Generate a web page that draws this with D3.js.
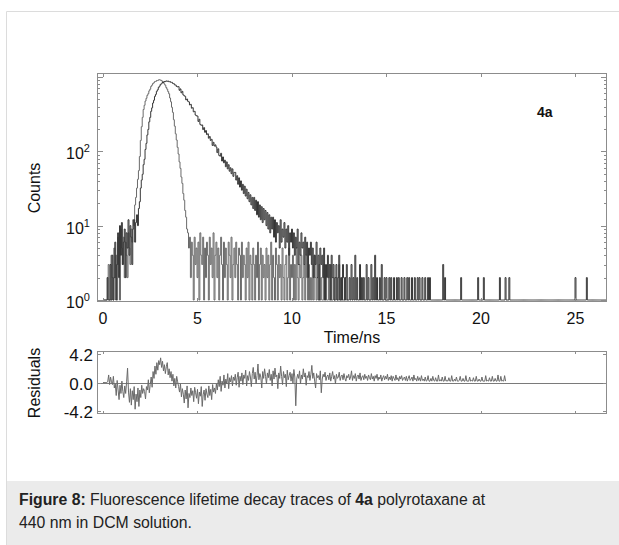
<!DOCTYPE html>
<html><head><meta charset="utf-8">
<script src="https://cdn.jsdelivr.net/npm/d3@7"></script>
<style>
html,body{margin:0;padding:0;background:#fff;}
svg{display:block;font-family:"Liberation Sans",Arial,Helvetica,sans-serif;}
</style></head><body>
<svg id="fig" width="619" height="545"></svg>
<script>
// TCSPC histogram channel width (ns); channel i sits at i * channelWidth
const channelWidth = 0.05;

// sample decay counts, one row per nanosecond (20 channels each)
const decayCounts = [
  1,1,1,1,1,2,1,1,3,1,4,1,2,6,1,3,8,2,10,4,
  11,3,6,9,2,8,5,12,4,10,7,3,9,12,6,11,14,10,17,21,
  32,41,49,66,78,106,128,166,197,249,286,345,384,446,486,548,583,641,672,724,
  752,796,808,842,846,869,866,884,874,882,861,866,845,846,818,813,783,778,745,735,
  740,662,690,612,640,575,560,548,492,505,470,462,420,428,380,386,340,345,308,300,
  298,252,270,230,224,226,196,208,180,190,168,172,150,158,140,145,120,132,118,122,
  114,96,108,88,86,94,74,84,70,76,62,72,58,66,54,60,50,58,46,52,
  52,41,47,36,44,33,40,30,36,27,34,25,31,23,28,21,26,19,24,17,
  24,16,22,14,21,13,19,12,18,11,17,12,16,10,15,9,14,8,13,9,
  13,7,12,6,11,8,10,5,12,6,9,7,11,5,9,6,10,4,8,6,
  9,5,8,4,7,5,9,3,6,4,8,5,6,3,7,4,6,2,5,4,
  6,3,5,2,4,3,6,2,4,1,5,3,4,2,5,1,3,2,4,2,
  3,1,4,2,3,1,2,3,1,2,4,1,2,1,3,2,1,2,3,1,
  1,2,1,3,1,2,1,4,1,2,1,1,3,1,2,1,2,1,1,3,
  1,2,1,1,3,1,2,1,4,1,2,1,1,2,1,3,1,1,2,1,
  2,1,1,2,1,2,1,1,2,1,1,2,1,2,1,1,2,1,1,2,
  1,1,2,1,2,1,1,2,1,1,2,1,1,2,1,2,1,1,2,1,
  1,2,1,1,2,1,2,1,1,1,1,1,1,1,1,1,1,1,1,1,
  3,1,2,1,1,1,1,1,1,1,1,1,1,1,1,1,1,1,1,2,
  1,1,1,1,1,1,1,1,1,1,1,1,1,1,1,1,1,2,1,1,
  1,1,1,2,1,1,1,1,1,1,1,1,1,1,1,1,1,1,1,1,
  2,1,1,1,1,1,2,1,1,1,2,1,1,1,1,1,1,1,1,1,
  1,1,1,1,1,1,1,1,1,1,1,1,1,1,1,1,1,1,1,1,
  1,1,1,1,1,1,1,1,1,1,1,1,1,1,1,1,1,1,1,1,
  1,1,1,1,1,1,1,1,1,1,1,1,1,1,1,1,1,1,1,1,
  2,1,1,1,1,1,1,1,1,1,1,1,2,1,1,1,1,1,1,1,
  1,1,1,1,1,1,1,1,1,1,1,1,1,1
];

// instrument response (prompt) counts, same channel grid
const irfCounts = [
  1,1,1,1,1,2,3,1,1,4,2,1,5,2,4,1,7,3,1,9,
  5,3,7,2,6,4,2,8,5,3,9,6,12,10,19,24,32,42,55,85,
  140,214,286,365,416,474,516,566,596,650,684,746,776,818,836,866,870,896,894,914,
  918,904,898,868,849,806,774,721,684,636,594,521,463,391,334,266,218,172,142,113,
  92,72,59,45,37,27,22,16,13,9,8,5,7,2,6,4,1,7,3,5,
  2,6,1,8,4,3,7,1,5,2,6,4,1,7,3,5,2,8,1,4,
  6,2,5,1,4,7,3,1,6,2,5,3,1,6,4,2,7,1,3,5,
  2,6,3,1,5,4,1,6,2,4,3,1,5,2,6,1,4,3,1,5,
  3,1,4,2,6,1,3,5,1,4,2,3,1,5,2,4,1,3,6,1,
  4,2,1,5,3,1,4,2,3,1,5,2,1,3,4,1,2,5,1,3,
  2,4,1,3,1,5,2,1,3,2,4,1,2,3,1,4,2,1,3,1,
  2,1,3,1,4,2,1,2,1,3,1,2,1,1,3,1,2,1,1,2,
  1,3,1,1,2,1,1,2,1,1,3,1,1,2,1,1,1,2,1,1
];

// weighted residuals of the fit, same channel grid
const residuals = [
  0,0,0,0,0,0.1,1.1,-0.3,0.8,0.1,-0.3,0.9,-0.8,-0.2,-1.9,0.3,-1.1,-2.5,-0.4,-1.6,
  0.2,-1.3,-2.2,-0.5,-1.6,0.1,2.1,-1.4,-2.9,-0.9,-3.3,-1.2,-2.5,-0.6,-3.9,-1.7,-2.8,-0.8,-3.5,-1.1,
  -2.2,-0.4,-1.6,-0.9,-1.3,-2.4,-0.6,-1.1,0.4,-1.5,-0.3,0.8,-0.7,1.6,0.6,2.4,1.2,2.9,1.8,3.2,
  2.6,3.6,2.2,3.1,1.7,2.6,1.3,2.3,2.9,1.1,2.0,0.7,1.6,0.2,1.2,-0.5,0.6,-0.8,0.9,0.1,
  -0.6,-1.4,-0.2,-2.1,-0.9,-1.7,-3.0,-1.1,-2.4,-0.5,-3.7,-1.6,-2.2,-0.8,-1.9,-1.2,-2.8,-0.7,-1.5,-2.3,
  -1.0,-3.1,-1.4,-2.0,-0.6,-3.5,-1.8,-1.1,-2.6,-0.9,-1.7,-2.2,-0.5,-1.9,-1.0,-2.5,-0.3,-1.4,-0.8,-1.6,
  -0.2,-1.1,0.4,-0.6,0.9,-1.3,0.2,-0.4,1.1,-0.8,0.5,-0.2,1.3,-0.9,0.7,0.1,1.0,-0.5,0.8,0.3,
  1.2,-0.4,0.7,1.5,-0.7,0.9,0.2,1.4,-0.3,1.1,0.6,1.8,-0.5,1.0,0.3,1.6,0.8,-0.6,1.3,2.2,
  0.5,1.5,-0.2,1.0,2.7,0.4,1.3,0.8,-0.8,1.6,0.6,2.0,0.9,-0.2,1.4,0.7,1.9,0.3,1.2,-0.5,
  1.7,0.5,2.1,0.8,1.1,-0.9,1.4,0.6,2.4,0.9,-0.3,1.6,0.7,1.2,-0.6,1.8,0.4,1.0,1.5,0.2,
  1.3,-0.1,1.9,0.8,-3.4,0.5,1.2,0.6,1.7,-0.2,1.1,0.5,2.0,0.8,1.4,-0.4,1.0,0.7,1.6,0.3,
  1.2,2.5,0.6,1.4,0.2,-0.8,1.3,0.7,1.0,0.4,1.7,-1.5,0.5,1.2,0.8,1.5,0.3,0.9,1.1,0.4,
  1.4,0.2,0.9,1.6,0.5,1.0,-0.2,1.2,0.6,0.8,1.5,0.3,0.9,1.1,0.4,1.3,0.6,0.2,1.0,0.7,
  1.2,0.4,0.8,1.7,0.3,1.0,0.6,1.3,0.2,0.9,1.1,0.5,1.4,0.3,0.8,1.0,0.4,1.2,0.6,0.9,
  0.3,1.1,0.7,0.4,1.3,0.5,0.9,0.2,1.0,0.6,1.2,0.3,0.8,0.5,1.1,0.2,0.7,1.0,0.4,0.9,
  0.5,1.2,0.3,0.8,0.4,1.0,0.2,0.9,0.6,0.3,1.1,0.4,0.7,0.2,0.9,0.5,1.0,0.3,0.6,0.8,
  0.3,0.9,0.2,0.6,1.0,0.3,0.5,0.8,0.2,1.1,0.4,0.6,0.2,0.9,0.3,0.7,0.2,1.0,0.3,0.5,
  0.2,0.8,0.2,0.3,1.0,0.2,0.2,0.6,0.2,0.9,0.3,0.2,0.7,0.2,0.2,1.1,0.2,0.4,0.2,0.8,
  0.2,0.2,0.9,0.2,0.3,0.2,0.7,0.2,0.2,1.0,0.2,0.2,0.5,0.2,0.8,0.2,0.2,0.3,0.9,0.2,
  0.2,0.6,0.2,0.2,1.0,0.2,0.2,0.2,0.8,0.2,0.3,0.2,0.7,0.2,0.2,0.9,0.2,0.2,0.5,0.2,
  0.2,0.8,0.2,0.2,0.2,1.0,0.2,0.3,0.2,0.7,0.2,0.2,0.9,0.2,0.2,0.6,0.2,0.2,1.1,0.2,
  0.2,0.9,0.2,0.3,0.2,1.0,0.2
];

const xTickValues = [0, 5, 10, 15, 20, 25];
const countDecades = [1, 10, 100, 1000];
const decadeLabels = ["0", "1", "2"];          // exponents printed as 10^n
const residualTickValues = [4.2, 0, -4.2];
const residualTickLabels = ["4.2", "0.0", "-4.2"];
const sampleName = "4a";
const xTitle = "Time/ns";
const yTitle = "Counts";
const residualTitle = "Residuals";
const captionLines = [
  [{t: "Figure 8:", b: true}, {t: " Fluorescence lifetime decay traces of "}, {t: "4a", b: true}, {t: " polyrotaxane at"}],
  [{t: "440 nm in DCM solution."}]
];

const svg = d3.select("#fig");
const ink = "#111";
const frameCol = "#8c8c8c";

// page border and caption panel
svg.append("line").attr("x1", 6.5).attr("x2", 619).attr("y1", 11.5).attr("y2", 11.5).attr("stroke", "#dcdcdc");
svg.append("line").attr("x1", 6.5).attr("x2", 6.5).attr("y1", 11.5).attr("y2", 545).attr("stroke", "#dcdcdc");
svg.append("rect").attr("x", 7).attr("y", 481).attr("width", 612).attr("height", 64).attr("fill", "#ebebeb");

// scales
const x = d3.scaleLinear().domain([-0.317, 26.667]).range([97, 607]);
const y = d3.scaleLog().domain([0.94, 1130]).range([302, 73]);
const yr = d3.scaleLinear().domain([-4.6, 4.6]).range([414, 351]);

const [px0, px1] = x.range();
const [py0, py1] = y.range();
const [ry0, ry1] = yr.range();

svg.append("clipPath").attr("id", "clipMain").append("rect")
  .attr("x", px0).attr("y", py1).attr("width", px1 - px0).attr("height", py0 - py1);
svg.append("clipPath").attr("id", "clipRes").append("rect")
  .attr("x", px0).attr("y", ry1).attr("width", px1 - px0).attr("height", ry0 - ry1);

// decay traces
const toPoints = arr => arr.map((v, i) => ({t: i * channelWidth, v}));
const countLine = d3.line().x(d => x(d.t)).y(d => y(Math.max(d.v, y.domain()[0]))).curve(d3.curveStep);
const gMain = svg.append("g").attr("clip-path", "url(#clipMain)");
gMain.append("path").datum(toPoints(irfCounts)).attr("d", countLine)
  .attr("fill", "none").attr("stroke", "#6a6a6a").attr("stroke-width", 1);
gMain.append("path").datum(toPoints(decayCounts)).attr("d", countLine)
  .attr("fill", "none").attr("stroke", "#363636").attr("stroke-width", 1);

// main frame
svg.append("rect").attr("x", px0 + 0.5).attr("y", py1 + 0.5).attr("width", px1 - px0 - 1).attr("height", py0 - py1 - 1)
  .attr("fill", "none").attr("stroke", frameCol);

// x ticks (inward, top and bottom)
const gx = svg.append("g").attr("stroke", frameCol);
xTickValues.forEach(v => {
  const xx = Math.round(x(v)) + 0.5;
  gx.append("line").attr("x1", xx).attr("x2", xx).attr("y1", py0).attr("y2", py0 - 4);
  gx.append("line").attr("x1", xx).attr("x2", xx).attr("y1", py1).attr("y2", py1 + 4);
});
svg.append("g").selectAll("text").data(xTickValues).join("text")
  .attr("x", d => x(d)).attr("y", 324).attr("text-anchor", "middle")
  .attr("font-size", 16).attr("fill", ink).text(d => d);

// log y ticks, minor and major, both sides
const gy = svg.append("g").attr("stroke", frameCol);
y.ticks().forEach(v => {
  const major = countDecades.includes(v);
  const len = major ? 6 : 3;
  const yy = Math.round(y(v)) + 0.5;
  gy.append("line").attr("x1", px0).attr("x2", px0 + len).attr("y1", yy).attr("y2", yy);
  gy.append("line").attr("x1", px1).attr("x2", px1 - len).attr("y1", yy).attr("y2", yy);
});
const decadeText = svg.append("g").selectAll("text").data(decadeLabels).join("text")
  .attr("x", 66).attr("y", (d, i) => y(countDecades[i]) + 8)
  .attr("font-size", 16).attr("fill", ink).text("10");
decadeText.append("tspan").attr("dy", -7).attr("font-size", 11).text(d => d);

// axis titles and sample tag
svg.append("text").attr("transform", "translate(40,188) rotate(-90)").attr("text-anchor", "middle")
  .attr("font-size", 16).attr("fill", ink).text(yTitle);
svg.append("text").attr("x", 352).attr("y", 343).attr("text-anchor", "middle")
  .attr("font-size", 16).attr("fill", ink).text(xTitle);
svg.append("text").attr("x", 537).attr("y", 117).attr("font-size", 14).attr("font-weight", "bold")
  .attr("fill", ink).text(sampleName);

// residual panel
const gRes = svg.append("g").attr("clip-path", "url(#clipRes)");
gRes.append("line").attr("x1", px0).attr("x2", px1).attr("y1", Math.round(yr(0)) + 0.5).attr("y2", Math.round(yr(0)) + 0.5)
  .attr("stroke", "#7a7a7a");
gRes.append("path").datum(toPoints(residuals))
  .attr("d", d3.line().x(d => x(d.t)).y(d => yr(d.v)))
  .attr("fill", "none").attr("stroke", "#6a6a6a").attr("stroke-width", 1);
svg.append("rect").attr("x", px0 + 0.5).attr("y", ry1 + 0.5).attr("width", px1 - px0 - 1).attr("height", ry0 - ry1 - 1)
  .attr("fill", "none").attr("stroke", frameCol);
const grx = svg.append("g").attr("stroke", frameCol);
xTickValues.forEach(v => {
  const xx = Math.round(x(v)) + 0.5;
  grx.append("line").attr("x1", xx).attr("x2", xx).attr("y1", ry0).attr("y2", ry0 - 3);
  grx.append("line").attr("x1", xx).attr("x2", xx).attr("y1", ry1).attr("y2", ry1 + 3);
});
residualTickValues.forEach(v => {
  const yy = Math.round(yr(v)) + 0.5;
  grx.append("line").attr("x1", px0).attr("x2", px0 + 4).attr("y1", yy).attr("y2", yy);
  grx.append("line").attr("x1", px1).attr("x2", px1 - 4).attr("y1", yy).attr("y2", yy);
});
svg.append("g").selectAll("text").data(residualTickValues).join("text")
  .attr("x", 93).attr("y", d => yr(d) + 7).attr("text-anchor", "end")
  .attr("font-size", 17).attr("fill", ink).text((d, i) => residualTickLabels[i]);
svg.append("text").attr("transform", "translate(40,383) rotate(-90)").attr("text-anchor", "middle")
  .attr("font-size", 16).attr("fill", ink).text(residualTitle);

// caption
const cap = svg.append("g").attr("font-size", 15.8).attr("fill", "#222");
captionLines.forEach((parts, li) => {
  const t = cap.append("text").attr("x", 19).attr("y", 505 + li * 23);
  parts.forEach(p => t.append("tspan").attr("font-weight", p.b ? "bold" : null).text(p.t));
});
</script>
</body></html>
